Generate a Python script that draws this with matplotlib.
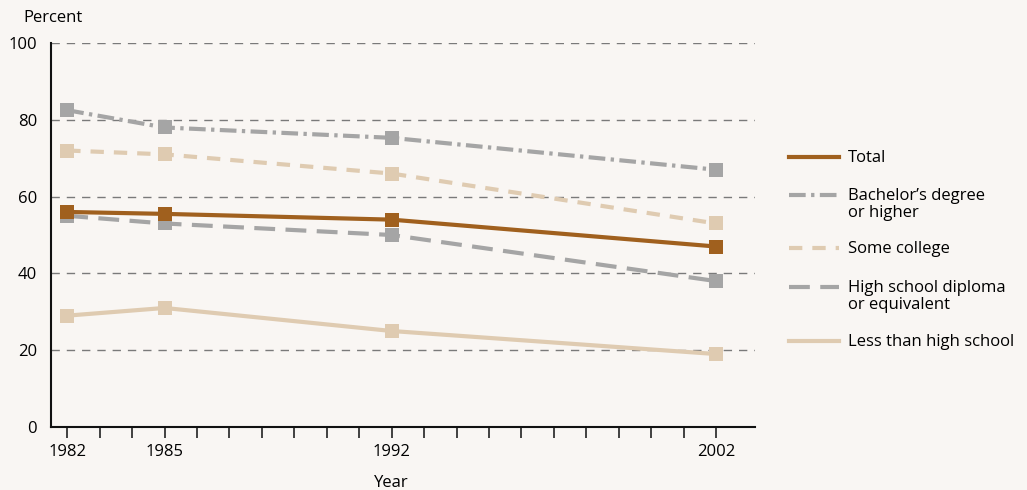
import matplotlib
matplotlib.use("Agg")
import matplotlib.pyplot as plt
from matplotlib.lines import Line2D

years = [1982, 1985, 1992, 2002]
total = [56, 55.5, 54, 47]
bachelors = [82.5, 78, 75.3, 67]
some_college = [72, 71, 66, 53]
high_school = [55, 53, 50, 38]
less_than_hs = [29, 31, 25, 19]
labels = ["Total", "Bachelor\u2019s degree\nor higher", "Some college",
          "High school diploma\nor equivalent", "Less than high school"]
yticks = [0, 20, 40, 60, 80, 100]
xticklabels = [1982, 1985, 1992, 2002]

plt.rcParams['font.family'] = ['Open Sans', 'DejaVu Sans']
BG = '#f9f6f3'
BROWN = '#a0601e'
GRAY = '#a5a5a5'
TAN = '#dfcbb1'
DASHDOT = (0, (4, 1.3, 0.8, 1.3))
SHORT = (0, (3.2, 2.4))
LONG = (0, (5, 2.5))

fig = plt.figure(figsize=(10.27, 4.9), dpi=100, facecolor=BG)
ax = fig.add_axes([51/1027, 1-427/490, (755-51)/1027, (427-43)/490])
ax.set_facecolor(BG)

styles = [
    (less_than_hs, TAN, '-'),
    (high_school, GRAY, LONG),
    (some_college, TAN, SHORT),
    (bachelors, GRAY, DASHDOT),
    (total, BROWN, '-'),
]
for vals, c, ls in styles:
    ax.plot(years, vals, color=c, lw=3, linestyle=ls, marker='s', markersize=10,
            markeredgewidth=0, zorder=3)

ax.set_xlim(1981.5, 2003.2)
ax.set_ylim(0, 100)
for y in [20, 40, 60, 80, 100]:
    ax.axhline(y, color='#7a7a7a', lw=1, linestyle=(0, (6, 5)), zorder=1)

ax.set_yticks(yticks)
ax.set_yticklabels([str(v) for v in yticks], fontsize=12)
ax.tick_params(axis='y', length=0, pad=10)
ax.set_xticks(xticklabels)
ax.set_xticklabels([str(v) for v in xticklabels], fontsize=12)
ax.set_xticks(range(1982, 2003), minor=True)
ax.tick_params(axis='x', which='both', length=8, width=1.2, direction='out', color='#222222')
ax.tick_params(axis='x', which='major', pad=4)
for s in ['top', 'right']:
    ax.spines[s].set_visible(False)
for s in ['left', 'bottom']:
    ax.spines[s].set_linewidth(1.5)
    ax.spines[s].set_color('#111111')

fig.text(23/1027, 1-18/490, "Percent", fontsize=12, va='center', ha='left')
fig.text(391/1027, 1-483/490, "Year", fontsize=12, va='center', ha='center')

# legend
leg = [(157, BROWN, '-', labels[0]), (195, GRAY, DASHDOT, labels[1]),
       (248, TAN, SHORT, labels[2]), (287, GRAY, LONG, labels[3]),
       (341, TAN, '-', labels[4])]
for ypx, c, ls, lab in leg:
    yf = 1 - ypx/490
    fig.add_artist(Line2D([789/1027, 839/1027], [yf, yf], color=c, lw=3, linestyle=ls,
                          transform=fig.transFigure))
    fig.text(848/1027, yf + 7/490, lab, fontsize=12, va='top', ha='left', linespacing=1.05)

fig.savefig("out.png", dpi=100, facecolor=BG)
